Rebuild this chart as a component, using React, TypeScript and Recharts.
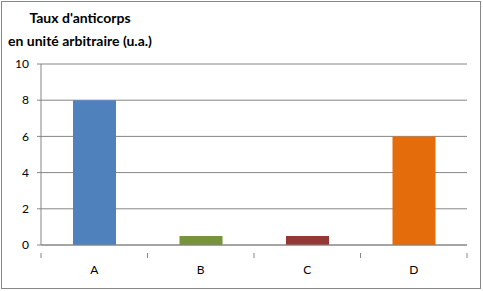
import React from 'react';
import { BarChart, Bar, XAxis, YAxis, CartesianGrid, Cell } from 'recharts';

const categories = ['A', 'B', 'C', 'D'];
const values = [8, 0.5, 0.5, 6];
const colors = ['#4F81BD', '#77933C', '#953735', '#E46C0A'];
const yTicks = [0, 2, 4, 6, 8, 10];
const titleLines = ["Taux d'anticorps", 'en unité arbitraire (u.a.)'];

const W = 483;
const H = 291;
const margin = { top: 64, right: 16, left: 0, bottom: 0 };
const yAxisWidth = 41;
const xAxisHeight = 46;
const band = (W - margin.left - margin.right - yAxisWidth) / categories.length;

const font = 'Lato, "Open Sans", sans-serif';

const XTick = (props: any) => {
  const { x, y, payload, index } = props;
  const left = x - band / 2;
  return (
    <g>
      <line x1={left} y1={y} x2={left} y2={y + 5} stroke="#868686" />
      {index === categories.length - 1 && (
        <line x1={x + band / 2} y1={y} x2={x + band / 2} y2={y + 5} stroke="#868686" />
      )}
      <text x={x} y={y + 21} textAnchor="middle" fontSize={12} fill="#000" fontFamily={font}>
        {payload.value}
      </text>
    </g>
  );
};

export default function App() {
  const data = categories.map((name, i) => ({ name, value: values[i] }));

  return (
    <div style={{ position: 'absolute', left: 0, top: 0, width: W, height: H, background: '#fff' }}>
      <div
        style={{
          position: 'absolute',
          left: 1,
          top: 1,
          width: 478,
          height: 286,
          border: '1px solid #878787',
        }}
      />
      <div
        style={{
          position: 'absolute',
          left: 2,
          top: 6,
          width: 156,
          textAlign: 'center',
          fontFamily: font,
          fontWeight: 'bold',
          fontSize: 14,
          lineHeight: '23px',
          color: '#000',
        }}
      >
        {titleLines.map((t) => (
          <div key={t}>{t}</div>
        ))}
      </div>
      <BarChart width={W} height={H} data={data} margin={margin} style={{ position: 'absolute', left: 0, top: 0 }}>
        <CartesianGrid vertical={false} stroke="#868686" />
        <XAxis
          dataKey="name"
          height={xAxisHeight}
          stroke="#868686"
          tickLine={false}
          tick={<XTick />}
          interval={0}
        />
        <YAxis
          width={yAxisWidth}
          domain={[0, 10]}
          ticks={yTicks}
          stroke="#868686"
          tickSize={4}
          tickMargin={8}
          tick={{ fill: '#000', fontSize: 12, fontFamily: font }}
        />
        <Bar dataKey="value" barSize={43} isAnimationActive={false}>
          {data.map((d, i) => (
            <Cell key={d.name} fill={colors[i]} />
          ))}
        </Bar>
      </BarChart>
    </div>
  );
}
